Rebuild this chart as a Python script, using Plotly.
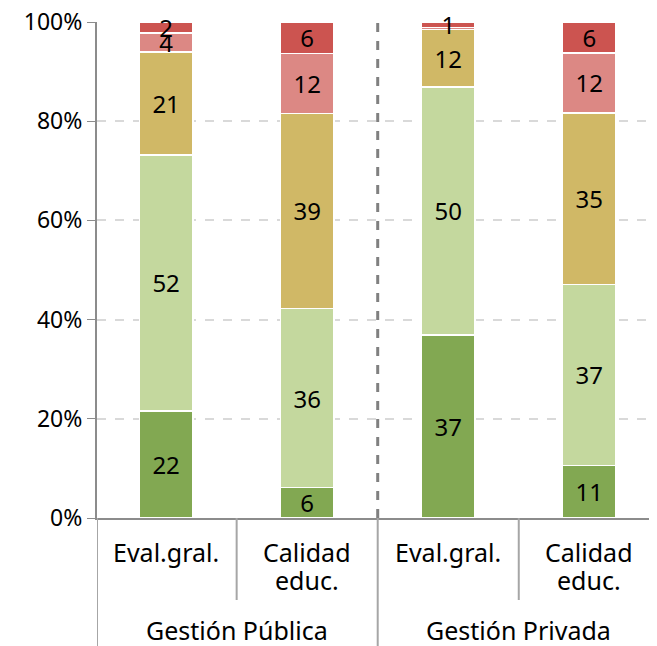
import plotly.graph_objects as go

categories = ["Eval.gral.", "Calidad<br>educ.", "Eval.gral. ", "Calidad<br>educ. "]
groups = ["Gestión Pública", "Gestión Privada"]

# shares (%) per segment, bottom to top
seg1 = [21.6, 6.1, 36.9, 10.6]
seg2 = [51.6, 36.1, 50.0, 36.5]
seg3 = [20.8, 39.4, 11.6, 34.6]
seg4 = [3.8, 12.1, 0.4, 12.1]
seg5 = [2.2, 6.3, 1.1, 6.2]

lab1 = ["22", "6", "37", "11"]
lab2 = ["52", "36", "50", "37"]
lab3 = ["21", "39", "12", "35"]
lab4 = ["4", "12", "", "12"]
lab5 = ["2", "6", "1", "6"]

colors = ["#82A852", "#C4D89E", "#D0B866", "#DC8884", "#CC5450"]
font = "Noto Sans"

fig = go.Figure()
for vals, labs, c in zip([seg1, seg2, seg3, seg4, seg5],
                         [lab1, lab2, lab3, lab4, lab5], colors):
    fig.add_trace(go.Bar(x=categories, y=vals, text=labs, marker_color=c,
                         marker_line=dict(color="white", width=1.5),
                         textposition="inside", insidetextanchor="middle",
                         constraintext="none", textangle=0,
                         textfont=dict(size=24, color="black", family=font),
                         cliponaxis=False, showlegend=False))

# page body has an 8px margin, so the figure is drawn 8px smaller
fig.update_layout(
    barmode="stack", bargap=0.62,
    width=649, height=638,
    margin=dict(l=89, r=0, t=14, b=128),
    plot_bgcolor="white", paper_bgcolor="white",
    font=dict(family=font, size=23, color="black"),
    xaxis=dict(range=[-0.49, 3.48], showticklabels=False, showline=True,
               linecolor="#8C8C8C", linewidth=2, ticks="", showgrid=False,
               automargin=False),
    yaxis=dict(range=[0, 100], tickvals=[0, 20, 40, 60, 80, 100],
               ticktext=["0%", "20%", "40%", "60%", "80%", "100%"],
               showline=True, linecolor="#8C8C8C", linewidth=2,
               ticks="outside", ticklen=8, tickcolor="#8C8C8C",
               showgrid=True, gridcolor="#D9D9D9", griddash="dash", gridwidth=1.5,
               zeroline=False, tickfont=dict(size=23), automargin=False,
               ticklabeloverflow="allow"),
)

# separator between the two groups
fig.add_shape(type="line", xref="x", yref="paper", x0=1.5, x1=1.5, y0=0, y1=1,
              line=dict(color="#808080", width=3, dash="dash"))

# category labels (one annotation per line) and dividers below the axis
for i, cat in enumerate(categories):
    for k, line in enumerate(cat.strip().split("<br>")):
        fig.add_annotation(x=i, y=0, xref="x", yref="paper", yanchor="middle",
                           yshift=-34 - 28 * k, text=line, showarrow=False,
                           font=dict(size=25, family=font))
for xpos in [0.5, 2.5]:
    fig.add_shape(type="line", xref="x", yref="paper", x0=xpos, x1=xpos,
                  y0=0, y1=-82 / 496, line=dict(color="#A6A6A6", width=2))
for xpos in [-0.49, 1.5]:
    fig.add_shape(type="line", xref="x", yref="paper", x0=xpos, x1=xpos,
                  y0=0, y1=-128 / 496, line=dict(color="#A6A6A6", width=2))
for j, g in enumerate(groups):
    fig.add_annotation(x=0.5 + 2 * j, y=0, xref="x", yref="paper", yanchor="middle",
                       yshift=-112, text=g, showarrow=False,
                       font=dict(size=25, family=font))

fig.write_html("out.html")
